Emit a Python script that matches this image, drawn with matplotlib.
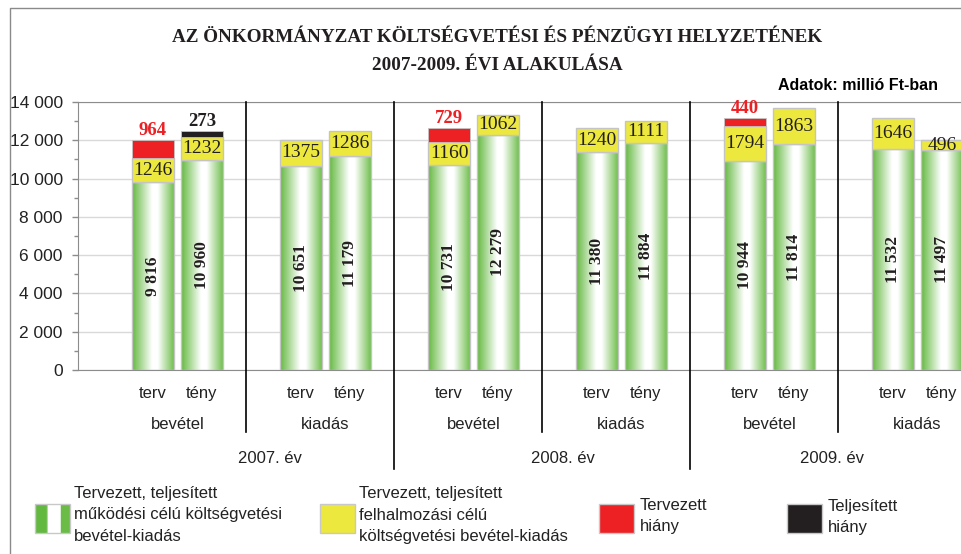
import matplotlib
matplotlib.use("Agg")
import matplotlib.pyplot as plt
import numpy as np
from matplotlib.colors import LinearSegmentedColormap
from matplotlib.ticker import FuncFormatter, MultipleLocator
from matplotlib.transforms import blended_transform_factory

# --- data (millió Ft) -------------------------------------------------------
years = ["2007. év", "2008. év", "2009. év"]
sides = ["bevétel", "kiadás"]
kinds = ["terv", "tény"]

# one value per bar, order: for each year -> bevétel terv, tény, kiadás terv, tény
mukodesi = [9816, 10960, 10651, 11179,
            10731, 12279, 11380, 11884,
            10944, 11814, 11532, 11497]
felhalmozasi = [1246, 1232, 1375, 1286,
                1160, 1062, 1240, 1111,
                1794, 1863, 1646, 496]
tervezett_hiany = [964, 0, 0, 0,
                   729, 0, 0, 0,
                   440, 0, 0, 0]
teljesitett_hiany = [0, 273, 0, 0,
                     0, 0, 0, 0,
                     0, 0, 0, 0]

title_lines = ["AZ ÖNKORMÁNYZAT KÖLTSÉGVETÉSI ÉS PÉNZÜGYI HELYZETÉNEK",
               "2007-2009. ÉVI ALAKULÁSA"]
unit_note = "Adatok: millió Ft-ban"
legend_labels = ["Tervezett, teljesített\nműködési célú költségvetési\nbevétel-kiadás",
                 "Tervezett, teljesített\nfelhalmozási célú\nköltségvetési bevétel-kiadás",
                 "Tervezett\nhiány",
                 "Teljesített\nhiány"]

# --- style ------------------------------------------------------------------
GREEN_L, GREEN_R = "#63b83f", "#6abc46"
YELLOW = "#ece83e"
RED = "#ed2024"
BLACK = "#231f20"
EDGE = "#c4c4c4"
SERIF = "Liberation Serif"
SANS = "Liberation Sans"

green_cmap = LinearSegmentedColormap.from_list(
    "bar_green", [(0.0, GREEN_L), (0.47, "#ffffff"), (0.6, "#ffffff"), (1.0, GREEN_R)])
gradient = np.linspace(0, 1, 256).reshape(1, -1)

W, H = 961, 554


def px_rect(left, top, right, bottom):
    return [left / W, 1 - bottom / H, (right - left) / W, (bottom - top) / H]


def thousands(v, _pos=None):
    return f"{int(round(v)):,}".replace(",", " ")


fig = plt.figure(figsize=(W / 100, H / 100), dpi=100)

# overlay in pixel coordinates for frame, title and legend
ov = fig.add_axes([0, 0, 1, 1], zorder=-1)
ov.set_xlim(0, W)
ov.set_ylim(H, 0)
ov.axis("off")
ov.plot([10, 10, W + 5], [H + 5, 8, 8], color="#8a8a8a", lw=1.0)

ax = fig.add_axes(px_rect(78, 102, 975, 370))

# bar positions: pair j (year*2 + side), terv at j, tény at j + 0.33
bar_w = 0.285
xs = []
for j in range(len(years) * len(sides)):
    xs += [j, j + 0.33]

for x, g, y, r, b in zip(xs, mukodesi, felhalmozasi, tervezett_hiany, teljesitett_hiany):
    left = x - bar_w / 2
    ax.imshow(gradient, cmap=green_cmap, aspect="auto", extent=(left, left + bar_w, 0, g),
              zorder=2, interpolation="bilinear")
    ax.bar(x, g, width=bar_w, facecolor="none", edgecolor=EDGE, lw=1.0, zorder=3)
    ax.text(x, g / 2, thousands(g), rotation=90, ha="center", va="center",
            family=SERIF, fontweight="bold", fontsize=12.5, color=BLACK, zorder=4)
    ax.bar(x, y, bottom=g, width=bar_w, color=YELLOW, edgecolor=EDGE, lw=1.0, zorder=3)
    ax.text(x, g + y / 2, str(y), ha="center", va="center", family=SERIF,
            fontsize=14, color=BLACK, zorder=4)
    top = g + y
    for val, col in ((r, RED), (b, BLACK)):
        if val:
            ax.bar(x, val, bottom=top, width=bar_w, color=col, edgecolor=EDGE, lw=0.6, zorder=3)
            ax.text(x, top + val + 60, str(val), ha="center", va="bottom", family=SERIF,
                    fontweight="bold", fontsize=13.5, color=col, zorder=4)

ax.set_xlim(-0.507, 5.554)
ax.set_ylim(0, 14000)
ax.yaxis.set_major_locator(MultipleLocator(2000))
ax.yaxis.set_minor_locator(MultipleLocator(1000))
ax.yaxis.set_major_formatter(FuncFormatter(thousands))
ax.set_xticks([])
ax.grid(axis="y", color="#d9d9d9", lw=1.0, zorder=0)
ax.set_axisbelow(True)
for name in ("left", "bottom", "top"):
    ax.spines[name].set_color("#8c8c8c")
ax.spines["right"].set_visible(False)
ax.tick_params(axis="y", which="major", length=4, width=1, color="#8c8c8c", pad=7,
               labelsize=12.5, labelcolor="#222222")
ax.tick_params(axis="y", which="minor", length=3, width=1, color="#8c8c8c")
for lab in ax.get_yticklabels():
    lab.set_family(SANS)

# multi-level category labels below the axis
trans = blended_transform_factory(ax.transData, ax.transAxes)
year_shift = [0.125, 0.105, -0.075]
for i, year in enumerate(years):
    for s, side in enumerate(sides):
        j = 2 * i + s
        for k, kind in enumerate(kinds):
            ax.text(j + 0.33 * k, -0.086, kind, transform=trans, ha="center", va="center",
                    family=SANS, fontsize=12, color="#222222")
        ax.text(j + 0.165, -0.205, side, transform=trans, ha="center", va="center",
                family=SANS, fontsize=12, color="#222222")
        sep_bottom = -0.231 if s == 0 else -0.37
        if j < 5:
            ax.plot([j + 0.63, j + 0.63], [1.0, sep_bottom], transform=trans, color="black",
                    lw=1.2, clip_on=False, zorder=5)
    ax.text(2 * i + 0.665 + year_shift[i], -0.33, year, transform=trans, ha="center",
            va="center", family=SANS, fontsize=12, color="#222222")

# title and unit note
for ty, line in zip([38, 66], title_lines):
    ov.text(497, ty, line, ha="center", va="center", family=SERIF, fontweight="bold",
            fontsize=13.8, color=BLACK)
ov.text(938, 86, unit_note, ha="right", va="center", family=SANS, fontweight="bold",
        fontsize=11.5, color="black")

# legend
sw = [(35, 70), (320, 355), (599, 634), (787, 822)]
text_x = [74, 359, 640, 828]
text_y = [515, 515, 516, 517]
ov.imshow(np.linspace(0, 1, 64).reshape(1, -1), cmap=LinearSegmentedColormap.from_list(
    "sw", [(0, GREEN_L), (0.33, GREEN_L), (0.37, "#ffffff"), (0.72, "#ffffff"),
           (0.76, GREEN_R), (1, GREEN_R)]), extent=(sw[0][0], sw[0][1], 533, 504),
    aspect="auto", interpolation="nearest")
for (l, r), col in zip(sw, [None, YELLOW, RED, BLACK]):
    ov.add_patch(plt.Rectangle((l, 504), r - l, 29, facecolor=col or "none",
                               edgecolor="#c8c8c8", lw=1.0))
for x, y, lab in zip(text_x, text_y, legend_labels):
    ov.text(x, y, lab, ha="left", va="center", family=SANS, fontsize=12,
            linespacing=1.55, color="#222222")

fig.savefig("out.png", dpi=100)
